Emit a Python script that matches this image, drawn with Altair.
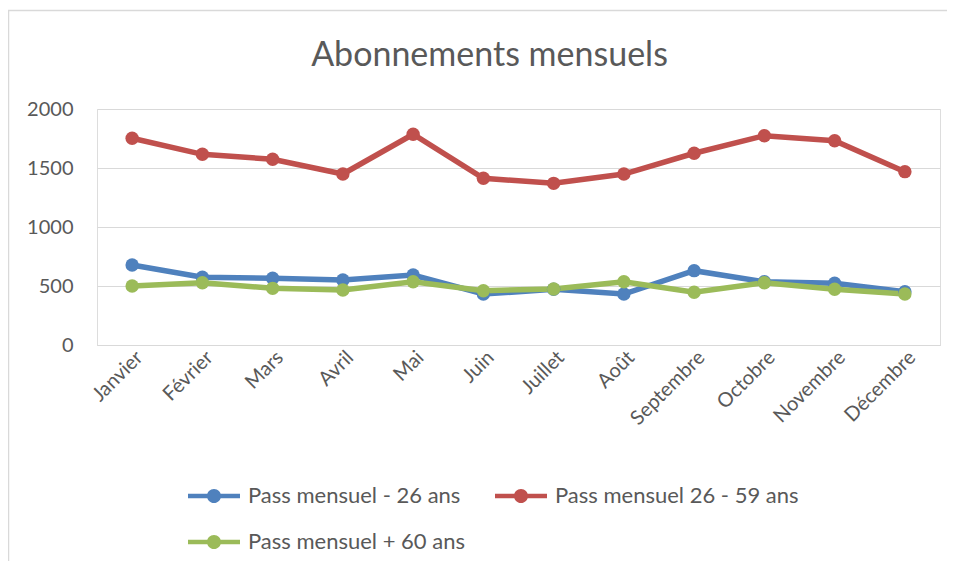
import altair as alt
import pandas as pd

months = ["Janvier", "Février", "Mars", "Avril", "Mai", "Juin", "Juillet",
          "Août", "Septembre", "Octobre", "Novembre", "Décembre"]
series_names = ["Pass mensuel - 26  ans", "Pass mensuel 26 - 59 ans", "Pass mensuel + 60  ans"]
moins26 = [678, 574, 565, 551, 593, 432, 472, 432, 630, 536, 523, 452]
de26a59 = [1752, 1616, 1574, 1449, 1786, 1413, 1370, 1449, 1625, 1774, 1731, 1469]
plus60 = [500, 528, 480, 466, 536, 460, 475, 536, 447, 528, 472, 432]
colors = ["#4F81BD", "#C0504D", "#9BBB59"]
y_ticks = [0, 500, 1000, 1500, 2000]

rows = []
for si, (name, vals) in enumerate(zip(series_names, [moins26, de26a59, plus60])):
    for mi, (m, v) in enumerate(zip(months, vals)):
        rows.append({"mois": m, "valeur": v, "serie": name, "ordre": si})
df = pd.DataFrame(rows)

W, H = 843, 236
FONT = "Lato"
TEXT = "#595959"

legend_path = ("M-1,-0.09L1,-0.09L1,0.09L-1,0.09Z "
               "M-0.27,0A0.27,0.27 0 1,1 0.27,0A0.27,0.27 0 1,1 -0.27,0Z")

x_enc = alt.X("mois:N", sort=months, title=None,
              scale=alt.Scale(type="point", padding=0.5),
              axis=alt.Axis(labelAngle=-45, labelFontSize=20, labelColor=TEXT,
                            labelFont=FONT, ticks=False, grid=False,
                            domainColor="#D9D9D9", domainWidth=1, labelPadding=2))
y_enc = alt.Y("valeur:Q", title=None,
              scale=alt.Scale(domain=[0, 2000], nice=False),
              axis=alt.Axis(values=y_ticks, format="d", labelFontSize=20, labelColor=TEXT,
                            labelFont=FONT, ticks=False, domain=False,
                            gridColor="#D9D9D9", gridWidth=1, labelPadding=24))
color_scale = alt.Scale(domain=series_names, range=colors)

leg = alt.Legend(title=None, orient="none", legendX=91, legendY=361,
                 direction="horizontal",
                 columns=2, columnPadding=24, rowPadding=9,
                 symbolType=legend_path, symbolSize=2704,
                 symbolStrokeWidth=0, labelFontSize=22,
                 labelFont=FONT, labelColor=TEXT, labelOffset=8,
                 labelLimit=400)

border = alt.Chart(pd.DataFrame({"a": [0]})).mark_rect(
    fill=None, stroke="#D9D9D9", strokeWidth=1.5
).encode(x=alt.value(-88.5), x2=alt.value(W + 200), y=alt.value(-98.5), y2=alt.value(H + 400))

lines = alt.Chart(df).mark_line(strokeWidth=5.5).encode(
    x=x_enc, y=y_enc,
    color=alt.Color("serie:N", scale=color_scale, sort=series_names, legend=leg),
    detail="serie:N",
    order=alt.Order("ordre:Q"),
)

points = alt.Chart(df).mark_point(filled=True, size=180, opacity=1).encode(
    x=x_enc, y=y_enc,
    color=alt.Color("serie:N", scale=color_scale, sort=series_names, legend=leg),
    order=alt.Order("ordre:Q"),
)

chart = alt.layer(border, lines, points).properties(
    width=W, height=H,
    title=alt.TitleParams("Abonnements mensuels", fontSize=34, font=FONT, color=TEXT,
                          fontWeight="normal", anchor="middle", dx=-29,
                          baseline="alphabetic", offset=-90),
    autosize=alt.AutoSizeParams(type="none"),
    padding={"left": 89, "top": 101, "right": 7, "bottom": 216},
).configure_view(stroke=None).configure(background="white")

chart.save("out.html", embed_options={"renderer": "svg", "actions": False})
